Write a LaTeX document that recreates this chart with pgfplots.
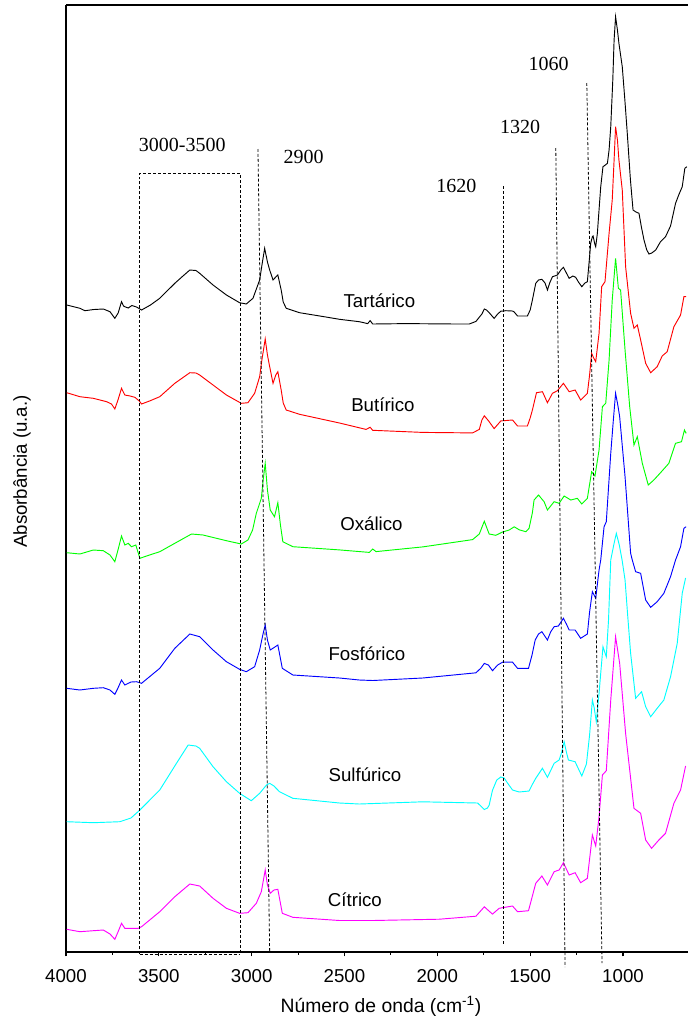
\documentclass[border=0pt]{standalone}
\usepackage{pgfplots}
\pgfplotsset{compat=1.18}
\usepackage{fontspec}
\setmainfont{Liberation Sans}
\newfontfamily\serifnum{Liberation Serif}
\definecolor{cgreen}{rgb}{0,1,0}
\definecolor{ccyan}{rgb}{0,1,1}
\definecolor{cmag}{rgb}{1,0,1}
\definecolor{cblue}{rgb}{0,0,1}
\definecolor{cred}{rgb}{1,0,0}
\begin{document}
\begin{tikzpicture}[x=0.75pt,y=0.75pt]
\begin{axis}[
  name=ax,
  scale only axis,
  width=466.5pt, height=710.25pt,
  x dir=reverse, y dir=reverse,
  xmin=650, xmax=4000, ymin=5, ymax=952,
  axis x line=box, axis y line=left,
  y axis line style={-},
  axis line style={line width=0.9pt},
  xtick={1000,1500,2000,2500,3000,3500,4000},
  minor x tick num=1,
  xtick pos=left,
  tick align=outside,
  major tick length=3.3pt, minor tick length=2pt,
  every tick/.style={black, line width=0.8pt},
  ytick=\empty,
  /pgf/number format/1000 sep={},
  /pgf/number format/assume math mode=true,
  xticklabel style={font=\fontsize{14}{16}\selectfont, anchor=base, yshift=-19.3pt},
  xlabel={Número de onda (cm\textsuperscript{-1})},
  xlabel style={font=\fontsize{14.5}{16}\selectfont, at={(axis description cs:0.5,0)}, anchor=base, yshift=-45pt, xshift=3pt},
  ylabel={Absorbância (u.a.)},
  ylabel style={font=\fontsize{14}{16}\selectfont, at={(axis description cs:0,0.5074)}, anchor=center, yshift=33pt},
  clip=false,
  every axis plot/.append style={line width=0.7pt},
]
% Tartarico
\addplot[black] coordinates {
(3996,305)(3925,308.3)(3898,310.7)(3850,309.5)(3799,309)(3763,311.7)(3737,318.3)(3719,313)(3701,301.7)(3690,306)(3683,306.7)(3665,308)(3645,305.5)(3620,307)(3593,310)(3545,305)(3495,298.3)(3414,283.3)(3370,276)(3333,270)(3300,270.5)(3280,273.3)(3208,285)(3136,295)(3065,302.7)(3029,304)(2993,298.3)(2957,280)(2942,262)(2930,248.3)(2915,262)(2903,270)(2885,280)(2870,277)(2859,275)(2841,290)(2830,302)(2814,308.3)(2742,312.7)(2600,317)(2527,319.3)(2420,321.7)(2375,323.6)(2362,320.6)(2348,324)(2169,323.6)(1900,324)(1828,324)(1792,321.4)(1760,314)(1747,309)(1735,310)(1724,312)(1694,318.4)(1675,314)(1658,311.2)(1631,310.7)(1595,311)(1586,312)(1568,316)(1515,316)(1500,310)(1488,300)(1470,283.3)(1455,280)(1437,279.3)(1420,283)(1407,290)(1395,283)(1380,276.7)(1353,275)(1335,270)(1321,267.3)(1305,273)(1290,278.3)(1270,276)(1255,277.3)(1240,282)(1222,286.7)(1205,283)(1192,281.7)(1183,263)(1174,243.3)(1165,236.7)(1161,236)(1152,244)(1147,246.7)(1138,233.3)(1133,220)(1120,186.7)(1108,166.7)(1095,165)(1084,163.3)(1075,150)(1066,126.7)(1055,80)(1048,40)(1040,16.7)(1030,30)(1022,43.3)(1004,66.7)(990,100)(977,133.3)(960,180)(946,210)(930,212)(914,213.3)(900,228)(887,240)(872,250)(860,254)(845,253)(824,250)(798,241.7)(771,236.7)(744,226)(717,203.3)(700,195)(681,186.7)(667,168.3)(656,166.7)
};
% Butirico
\addplot[cred] coordinates {
(3996,392.7)(3925,396.7)(3853,398.3)(3781,401.7)(3755,404)(3737,409)(3720,400)(3701,388.3)(3683,395)(3655,396)(3629,397.3)(3605,401)(3593,404)(3550,401)(3495,396.7)(3414,383.3)(3333,372.7)(3300,373)(3280,375)(3208,385)(3136,395)(3056,403.3)(3020,402.7)(2984,393.3)(2957,376.7)(2945,360)(2927,339)(2915,355)(2903,366.7)(2885,383.3)(2870,375)(2859,371.7)(2841,390)(2830,403)(2814,410)(2742,414.3)(2527,423)(2384,429.4)(2362,427.3)(2348,430.3)(2079,432.4)(1810,432.9)(1774,429.4)(1760,420)(1747,415.8)(1724,420.9)(1694,428.6)(1658,420.9)(1595,420)(1568,426)(1515,426)(1500,418)(1488,410)(1466,392.7)(1434,391.7)(1407,402.7)(1380,393.3)(1353,390.7)(1321,383.3)(1290,391.7)(1258,390)(1228,400)(1192,393.3)(1180,375)(1169,353.3)(1158,358)(1147,361.7)(1129,333.3)(1115,286.7)(1097,281.7)(1075,233.3)(1058,200)(1048,160)(1040,126.7)(1030,140)(1022,160)(1004,190)(986,266.7)(959,313.3)(941,328.3)(923,325)(905,340)(878,363.3)(851,372.7)(816,366.7)(789,356)(762,351.7)(726,326.7)(690,315)(672,296.7)(660,296.7)
};
% Oxalico
\addplot[cgreen] coordinates {
(3996,552.7)(3925,554)(3853,550)(3799,550.7)(3763,555)(3737,561.7)(3720,550)(3701,536)(3683,545)(3665,543.3)(3647,546.7)(3624,545)(3602,558.3)(3550,555)(3495,551.7)(3414,543.3)(3324,534)(3262,535)(3136,540.7)(3056,544)(3020,540)(2995,530)(2975,513.3)(2948,498.3)(2938,480)(2927,463.3)(2915,490)(2900,510)(2877,516.7)(2859,502.7)(2845,525)(2832,541.7)(2778,546.7)(2527,549.9)(2366,552.4)(2348,549)(2330,551.6)(2079,546.9)(1810,539.6)(1774,534)(1747,521.2)(1721,534)(1685,535.3)(1649,532)(1613,530)(1586,526.8)(1559,529.8)(1523,531.7)(1506,528.3)(1488,512.7)(1479,500)(1455,495)(1425,501.7)(1407,510)(1371,501.7)(1344,503.3)(1317,496)(1281,500)(1246,498.3)(1222,504)(1192,498.3)(1169,471.7)(1151,476)(1129,450)(1111,406.7)(1093,403.3)(1075,360)(1058,300)(1040,258.3)(1025,288.3)(1013,290)(989,350)(964,406.7)(941,445)(923,436.7)(896,463.3)(864,485)(834,480)(798,472.7)(753,463.3)(717,443.3)(685,441.7)(669,430)(660,433.3)
};
% Fosforico
\addplot[cblue] coordinates {
(3996,688.3)(3925,690)(3853,688.3)(3799,687.7)(3763,690)(3737,694.3)(3720,688)(3701,680)(3683,685)(3650,682)(3620,681.7)(3593,683.3)(3495,668.3)(3414,648.3)(3333,634)(3280,636.7)(3208,650)(3136,661.7)(3065,669.3)(3029,671.7)(2984,666.7)(2957,650)(2940,635)(2927,625)(2915,640)(2900,650)(2875,647)(2859,645)(2835,668.3)(2778,675)(2527,678)(2420,680)(2348,680.5)(2079,678)(1792,672.8)(1765,668)(1747,663.4)(1725,665)(1703,670.7)(1675,665)(1649,662.2)(1595,662.2)(1568,668.3)(1509,668.3)(1490,655)(1473,640)(1455,634)(1437,631.7)(1407,640)(1390,632)(1371,626.7)(1348,626)(1321,618.3)(1305,624)(1290,630)(1258,630)(1228,638.3)(1192,634)(1180,612)(1165,591.7)(1147,598.3)(1129,570)(1120,560)(1102,526.7)(1090,521.7)(1066,453.3)(1052,420)(1040,393.3)(1028,405)(1018,416.7)(989,476.7)(959,553.3)(950,560)(932,571.7)(905,573.3)(878,600)(851,607.3)(816,601.7)(780,593.3)(744,576.7)(717,560)(690,546.7)(672,528.3)(660,526.7)
};
% Sulfurico
\addplot[ccyan] coordinates {
(3996,821.7)(3853,822.7)(3710,821.7)(3650,818)(3602,810)(3495,790)(3405,763.3)(3342,745)(3300,746)(3280,748.3)(3208,766.7)(3136,781.7)(3065,793.3)(3002,800.7)(2957,793.3)(2920,785)(2903,783.3)(2880,786)(2850,791.7)(2778,798.3)(2527,803)(2420,804)(2079,801.8)(1783,803)(1747,809.5)(1730,808)(1721,805.2)(1703,790.3)(1680,780)(1658,777)(1640,778)(1622,783)(1595,790)(1559,792)(1506,791)(1490,785)(1470,778.3)(1434,768.3)(1407,777.3)(1371,763.3)(1344,760)(1330,752)(1317,741.7)(1305,752)(1294,760)(1258,761.7)(1222,776)(1197,764)(1180,735)(1165,700)(1155,708)(1144,721.7)(1129,693.3)(1108,646.7)(1090,656.7)(1078,620)(1066,560)(1050,545)(1036,533.3)(1020,545)(1005,560)(989,580)(975,615)(959,653.3)(932,698.3)(900,691.7)(878,706.7)(851,716.7)(816,708.3)(780,700)(744,676.7)(708,643.3)(681,593.3)(663,578)
};
% Citrico
\addplot[cmag] coordinates {
(3996,929.3)(3925,931.7)(3853,930.7)(3799,930)(3763,934)(3737,939.3)(3720,932)(3701,923.3)(3683,928.3)(3611,928.3)(3593,926.7)(3495,911.7)(3414,896.7)(3333,884)(3280,886)(3208,898.3)(3136,908.3)(3065,913.3)(3020,912.7)(2975,903.3)(2948,891.7)(2927,870)(2915,885)(2900,893.3)(2880,890)(2859,889.3)(2835,913.3)(2778,917.3)(2527,920.5)(2348,920.5)(1989,919.2)(1792,916.2)(1747,906.8)(1703,914.1)(1667,908.3)(1649,907.7)(1595,906)(1568,911.7)(1509,910.7)(1470,883.3)(1437,876)(1407,885)(1371,871.7)(1344,870)(1321,862.7)(1290,875)(1258,872.7)(1228,882.7)(1192,878.3)(1165,835)(1147,846)(1129,816.7)(1111,775)(1090,770.7)(1066,700)(1040,636.7)(1018,663.3)(986,733.3)(941,808.3)(905,813.3)(878,840)(846,848.3)(807,840)(771,833.3)(726,803.3)(690,790)(663,766)
};
% annotations
\begin{scope}[dash pattern=on 2.2pt off 1.5pt, line width=0.6pt]
\draw (axis cs:3602,954) -- (axis cs:3602,173) -- (axis cs:3063,173) -- (axis cs:3063,954);
\draw (axis cs:3602,954) -- (axis cs:3063,954);
\draw (axis cs:2966,149) -- (axis cs:2903,952);
\draw (axis cs:1645,186) -- (axis cs:1645,945);
\draw (axis cs:1362,148) -- (axis cs:1312,967);
\draw (axis cs:1195,83) -- (axis cs:1113,963);
\end{scope}
\begin{scope}[every node/.style={font=\serifnum\fontsize{15}{17}\selectfont, anchor=base, inner sep=0pt}]
\node at (axis cs:3374,151) {3000-3500};
\node at (axis cs:2720,163) {2900};
\node at (axis cs:1898,192) {1620};
\node at (axis cs:1554,133) {1320};
\node at (axis cs:1401,70.7) {1060};
\end{scope}
\begin{scope}[every node/.style={font=\fontsize{14}{16}\selectfont, anchor=base, inner sep=0pt}]
\node at (axis cs:2312,307.5) {Tartárico};
\node at (axis cs:2293,411.5) {Butírico};
\node at (axis cs:2355,530.5) {Oxálico};
\node at (axis cs:2379,660.5) {Fosfórico};
\node at (axis cs:2390,781.5) {Sulfúrico};
\node at (axis cs:2444,906.5) {Cítrico};
\end{scope}
\end{axis}
\path (ax.south west) ++(-49.5pt,-51.75pt) coordinate (bl);
\path (ax.north east) ++(0pt,3.75pt) coordinate (tr);
\path (bl) rectangle (tr);
\end{tikzpicture}
\end{document}
